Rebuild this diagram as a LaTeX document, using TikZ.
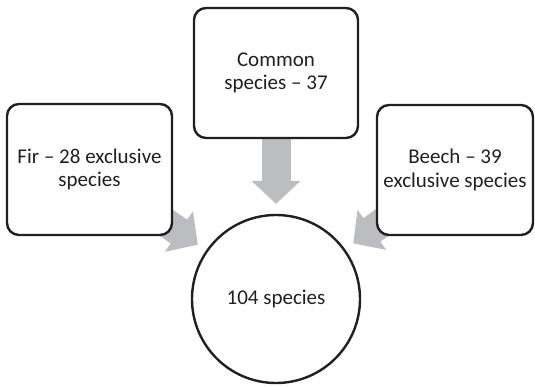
\documentclass[tikz,border=0pt]{standalone}
\usepackage{fontspec}
\setmainfont{Carlito}
\usetikzlibrary{arrows.meta,backgrounds}
\definecolor{arrowgray}{RGB}{188,189,192}
\definecolor{textgray}{RGB}{35,31,32}

\begin{document}
\begin{tikzpicture}[x=1pt,y=-1pt,
  font=\fontsize{21}{23.5}\selectfont, text=textgray,
  box/.style={draw=textgray, line width=2.4pt, rounded corners=12pt, fill=white, align=center, inner sep=0pt},
  bigarrow/.style={draw=arrowgray, line width=29pt, -{Triangle[length=23pt,width=48pt]}, shorten >=10pt}]
\useasboundingbox (0,0) rectangle (535,387);
\node[box, minimum width=164pt, minimum height=130pt] (common) at (276,73) {Common\\species -- 37};
\node[box, minimum width=165pt, minimum height=131pt] (fir) at (89.5,169.5) {Fir -- 28 exclusive\\species};
\node[box, minimum width=156pt, minimum height=130pt] (beech) at (455,170) {Beech -- 39\\exclusive species};
\node[draw=textgray, circle, line width=2.4pt, fill=white, minimum size=168pt, inner sep=0pt] (total) at (276,299) {104 species};
% arrows behind the boxes
\begin{scope}[on background layer]
\draw[bigarrow] (common.center) -- (total);
\draw[bigarrow] (fir.center) -- (total);
\draw[bigarrow] (beech.center) -- (total);
\end{scope}
\end{tikzpicture}
\end{document}
